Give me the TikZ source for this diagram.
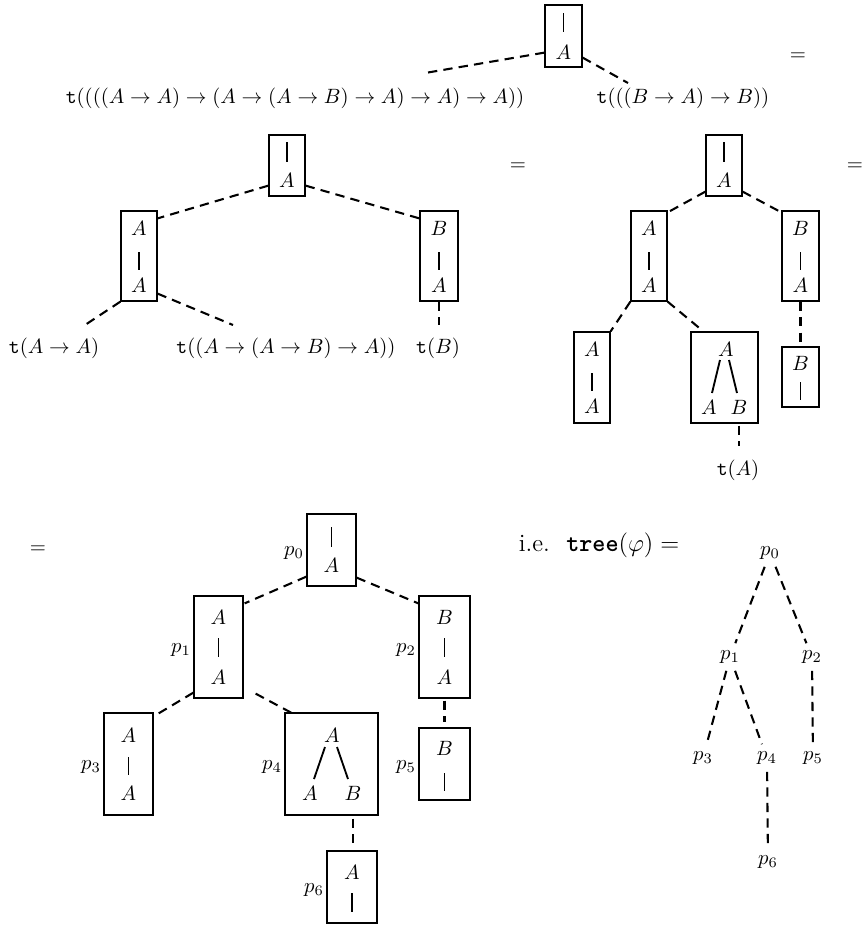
\documentclass[tikz,border=0pt]{standalone}
\usepackage{amsmath,amssymb}
\usetikzlibrary{calc}
\begin{document}
\begin{tikzpicture}[x=0.483pt,y=-0.483pt,
  bx/.style 2 args={draw,line width=0.6pt,minimum width=#1*0.483pt,minimum height=#2*0.483pt,inner sep=0pt},
  dl/.style={line width=1pt,dash pattern=on 4.5pt off 3pt},
  bar/.style={line width=0.6pt},
  ln/.style={line width=0.9pt},
  pl/.style={anchor=east,inner sep=1pt}]
\useasboundingbox (0,0) rectangle (865,925);

% ---------------- top ----------------
\node[bx={37}{62}] (tb) at (563.5,36) {};
\draw[bar] (563.5,13) -- (563.5,32);
\node (tbA) at (563.5,52) {$A$};
\node (tx1) at (295,98) {$\texttt{t}((((A\to A)\to(A\to(A\to B)\to A)\to A)\to A))$};
\node (tx2) at (683,98) {$\texttt{t}(((B\to A)\to B))$};
\node (eq1) at (798,57) {$=$};
\coordinate (e1) at (425,73);
\coordinate (e2) at (628,83);
\draw[dl] ($(tb.south west)+(0,-15)$) -- (e1);
\draw[dl] ($(tb.south east)+(0,-10)$) -- (e2);

% ---------------- middle left ----------------
\node[bx={36}{61}] (mb) at (287,165.5) {};
\draw[bar] (287,142) -- (287,162);
\node (mbA) at (287,180) {$A$};
\node[bx={36}{90}] (lb) at (139,256) {};
\node (lbA1) at (139,228) {$A$};
\draw[bar] (139,252) -- (139,270);
\node (lbA2) at (139,285) {$A$};
\node[bx={38}{90}] (rb) at (439,256) {};
\node (rbB) at (439,228) {$B$};
\draw[bar] (439,252) -- (439,270);
\node (rbA) at (439,285) {$A$};
\node (u1) at (54,348) {$\texttt{t}(A\to A)$};
\node (u2) at (286,348) {$\texttt{t}((A\to(A\to B)\to A))$};
\node (u3) at (438,348) {$\texttt{t}(B)$};
\coordinate (e3) at (85,325);
\coordinate (e4) at (233,325);
\coordinate (e5) at (439,325);
\draw[dl] ($(mb.south west)+(0,-11)$) -- ($(lb.north east)+(0,8)$);
\draw[dl] ($(mb.south east)+(0,-11)$) -- ($(rb.north west)+(0,8)$);
\draw[dl] (lb.south west) -- (e3);
\draw[dl] ($(lb.south east)+(0,-8)$) -- (e4);
\draw[dl] (rb.south) -- (e5);

% ---------------- middle right ----------------
\node (eq2) at (518,167) {$=$};
\node (eq3) at (855,167) {$=$};
\node[bx={36}{61}] (T) at (724,165.5) {};
\draw[bar] (724,142) -- (724,162);
\node (TA) at (724,180) {$A$};
\node[bx={36}{90}] (L) at (649,256) {};
\node (LA1) at (649,228) {$A$};
\draw[bar] (649,252) -- (649,270);
\node (LA2) at (649,285) {$A$};
\node[bx={37}{90}] (R) at (800.5,256) {};
\node (RB) at (800.5,228) {$B$};
\draw[bar] (800.5,252) -- (800.5,270);
\node (RA) at (800.5,285) {$A$};
\node[bx={36}{91}] (BL) at (592,377.5) {};
\node (BLA1) at (592,349) {$A$};
\draw[bar] (592,373) -- (592,391);
\node (BLA2) at (592,406) {$A$};
\node[bx={67}{91}] (BM) at (724.5,377.5) {};
\node (BMA) at (726,349) {$A$};
\draw[ln] (720,360) -- (712,393);
\draw[ln] (729,360) -- (737,393);
\node (BMA2) at (709,407) {$A$};
\node (BMB) at (739,407) {$B$};
\node[bx={37}{60}] (BR) at (800.5,377) {};
\node (BRB) at (800.5,363) {$B$};
\draw[bar] (800.5,382) -- (800.5,400);
\node (ta) at (738,470) {$\texttt{t}(A)$};
\coordinate (e8) at (739,446);
\draw[dl] ($(T.south west)+(0,-5)$) -- ($(L.north east)+(0,2)$);
\draw[dl] ($(T.south east)+(0,-5)$) -- ($(R.north west)+(0,2)$);
\draw[dl] (L.south west) -- (BL.north east);
\draw[dl] (L.south east) -- ($(BM.north west)+(13,0)$);
\draw[dl,shorten >=2pt] (R.south) -- (BR.north);
\draw[dl] ($(BM.south)+(14.5,2)$) -- (e8);

% ---------------- bottom left ----------------
\node (eq4) at (38,550) {$=$};
\node[bx={49}{72}] (P0) at (331.5,550) {};
\draw[bar] (331.5,527) -- (331.5,547);
\node (P0A) at (331.5,565) {$A$};
\node[pl] (lp0) at ($(P0.west)+(0,3)$) {$p_0$};

\node[bx={49}{102}] (P1) at (218.5,647) {};
\node (P1A1) at (218.5,617) {$A$};
\draw[bar] (218.5,638) -- (218.5,657);
\node (P1A2) at (218.5,677) {$A$};
\node[pl] (lp1) at ($(P1.west)+(0,3)$) {$p_1$};

\node[bx={51}{102}] (P2) at (444.5,647) {};
\node (P2B) at (444.5,617) {$B$};
\draw[bar] (444.5,638) -- (444.5,657);
\node (P2A) at (444.5,677) {$A$};
\node[pl] (lp2) at ($(P2.west)+(0,3)$) {$p_2$};

\node[bx={49}{102}] (P3) at (128.5,764) {};
\node (P3A1) at (128.5,735) {$A$};
\draw[bar] (128.5,757) -- (128.5,775);
\node (P3A2) at (128.5,793) {$A$};
\node[pl] (lp3) at ($(P3.west)+(0,3)$) {$p_3$};

\node[bx={93}{102}] (P4) at (331.5,764) {};
\node (P4A) at (332,735) {$A$};
\draw[ln] (325,747) -- (314,779);
\draw[ln] (337,747) -- (348,779);
\node (P4A2) at (310,793) {$A$};
\node (P4B) at (353,793) {$B$};
\node[pl] (lp4) at ($(P4.west)+(0,3)$) {$p_4$};

\node[bx={51}{72}] (P5) at (444.5,764) {};
\node (P5B) at (444.5,748) {$B$};
\draw[bar] (444.5,773) -- (444.5,791);
\node[pl] (lp5) at ($(P5.west)+(0,3)$) {$p_5$};

\node[bx={50}{72}] (P6) at (352,887) {};
\node (P6A) at (352,872) {$A$};
\draw[bar] (352,893) -- (352,912);
\node[pl] (lp6) at ($(P6.west)+(0,3)$) {$p_6$};

\draw[dl] ($(P0.south west)+(0,-10)$) -- ($(P1.north east)+(1,8)$);
\draw[dl] ($(P0.south east)+(0,-9)$) -- ($(P2.north west)+(0,8)$);
\draw[dl] ($(P1.south west)+(0,-6)$) -- ($(P3.north east)+(0,4)$);
\draw[dl] ($(P1.south east)+(12,-5)$) -- ($(P4.north west)+(10,2)$);
\draw[dl] ($(P2.south)+(0,2)$) -- ($(P5.north)+(0,-5)$);
\draw[dl] ($(P4.south)+(21.5,3)$) -- ($(P6.north)+(1,-4)$);

% ---------------- bottom right ----------------
\node (ie) at (599,545) {\large i.e.\hspace{8pt}$\textbf{\texttt{tree}}(\varphi) =$};
\node (q0) at (770,553) {$p_0$};
\node (q1) at (730,657) {$p_1$};
\node (q2) at (812,657) {$p_2$};
\node (q3) at (703,758) {$p_3$};
\node (q4) at (767,758) {$p_4$};
\node (q5) at (813,758) {$p_5$};
\node (q6) at (768,862) {$p_6$};
\draw[dl] (q0) -- (q1);
\draw[dl] (q0) -- (q2);
\draw[dl] (q1) -- (q3);
\draw[dl] (q1) -- (q4);
\draw[dl] (q2) -- (q5);
\draw[dl] (q4) -- (q6);
\end{tikzpicture}
\end{document}
